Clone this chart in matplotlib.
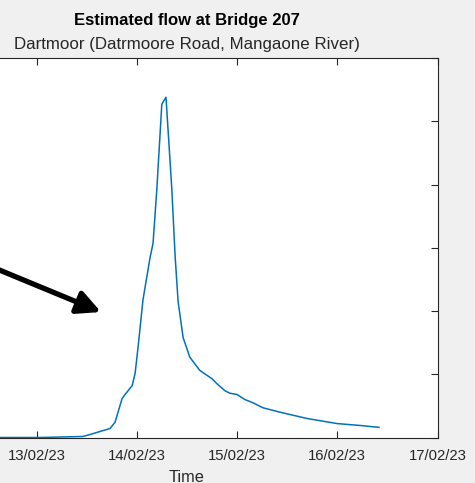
import matplotlib
matplotlib.use("Agg")
import matplotlib.pyplot as plt
import matplotlib.dates as mdates
import pandas as pd
import numpy as np

plt.rcParams['font.family'] = ['Liberation Sans', 'DejaVu Sans']

title = "Estimated flow at Bridge 207"
subtitle = "Dartmoor (Datrmoore Road, Mangaone River)"
x_label = "Time"
start = "2023-02-12 00:00"

# hours since 12/02/23 00:00
hours = [0, 24.8, 35.1, 36.8, 39.2, 41.6, 42.8, 44.5, 45.2, 46.9, 47.6, 48.3,
         49.5, 51.2, 51.9, 52.8, 54.0, 55.0, 56.4, 57.2, 57.9, 59.1, 60.7,
         63.1, 66.0, 67.2, 69.1, 70.3, 72.0, 73.9, 75.8, 78.2, 82.3, 88.8,
         96.0, 101.5, 106.0]
flow = [0, 0, 0.016, 0.047, 0.095, 0.142, 0.24, 0.617, 0.68, 0.82, 1.01, 1.42,
        2.18, 2.85, 3.07, 3.92, 5.27, 5.38, 3.92, 2.85, 2.15, 1.58, 1.27,
        1.06, 0.93, 0.85, 0.74, 0.70, 0.68, 0.60, 0.55, 0.47, 0.40, 0.30,
        0.22, 0.19, 0.16]
tick_dates = ["2023-02-12", "2023-02-13", "2023-02-14", "2023-02-15", "2023-02-16", "2023-02-17"]
tick_labels = ["", "13/02/23", "14/02/23", "15/02/23", "16/02/23", "17/02/23"]

W, H = 475, 483
fig = plt.figure(figsize=(W / 100, H / 100), dpi=100)
fig.patch.set_facecolor('#f0f0f0')

ax_left_px, ax_right_px = -63.75, 437.5
ax_top_px, ax_bot_px = 58, 437.5
ax = fig.add_axes([ax_left_px / W, (H - ax_bot_px) / H,
                   (ax_right_px - ax_left_px) / W, (ax_bot_px - ax_top_px) / H])

t = pd.Timestamp(start) + pd.to_timedelta(hours, unit='h')
ax.plot(t, flow, color='#0072BD', lw=1.1)

tk = pd.to_datetime(tick_dates)
ax.set_xlim(tk[0], tk[-1])
ax.set_xticks(tk)
ax.set_xticklabels(tick_labels)
ax.set_ylim(0, 6)
ax.set_yticks(np.arange(0, 7))
ax.set_yticklabels([])
for s in ax.spines.values():
    s.set_color('#262626')
    s.set_linewidth(0.8)
ax.tick_params(direction='in', length=5, width=0.8, color='#262626',
               top=True, right=True, labelsize=10.7, labelcolor='#262626', pad=8)
for lbl in ax.get_xticklabels():
    lbl.set_clip_on(False)

cx = (ax_left_px + ax_right_px) / 2 / W
fig.text(cx, 1 - 20 / H, title, ha='center', va='center', fontsize=12,
         fontweight='bold', color='#000000')
fig.text(cx, 1 - 45 / H, subtitle, ha='center', va='center', fontsize=12.2,
         color='#262626')
fig.text(cx, 1 - 477 / H, x_label, ha='center', va='center', fontsize=11.8,
         color='#262626')

# arrow annotation (figure pixel coords, from top-left)
tail = (-20, 262)
tip = (101, 312)
fig.add_artist(matplotlib.patches.FancyArrowPatch(
    (tail[0] / W, 1 - tail[1] / H), (tip[0] / W, 1 - tip[1] / H),
    transform=fig.transFigure, arrowstyle='-|>,head_length=1.0,head_width=0.5',
    mutation_scale=14, lw=3.8, color='black', shrinkA=0, shrinkB=0))

fig.savefig('out.png', dpi=100, facecolor=fig.get_facecolor())
